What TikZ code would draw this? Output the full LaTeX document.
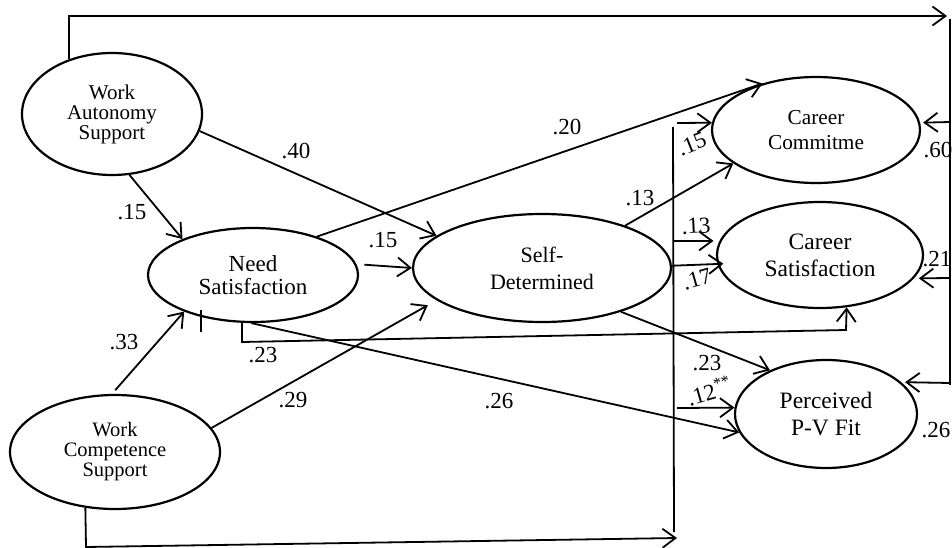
\documentclass[tikz,border=0pt]{standalone}
\usepackage{fontspec}
\setmainfont{Liberation Serif}
\usetikzlibrary{arrows.meta,shapes.geometric}
\begin{document}
\begin{tikzpicture}[x=1pt,y=-1pt,
  ell/.style={ellipse,draw,line width=2.2pt,inner sep=0pt,align=center},
  conn/.style={line width=1.8pt},
  arr/.style={conn,-{Straight Barb[length=13pt,width=19pt]}},
  lab/.style={font=\fontsize{23}{27}\selectfont,inner sep=0pt}
]
\useasboundingbox (0,0) rectangle (952,548);
% ellipses
\node[ell,minimum width=180pt,minimum height=122pt,font=\fontsize{21}{20}\selectfont] (wa) at (112,114) {Work\\Autonomy\\Support};
\node[ell,minimum width=210pt,minimum height=94pt,font=\fontsize{23}{23}\selectfont] (ns) at (253,275) {Need\\Satisfaction};
\node[ell,minimum width=258pt,minimum height=108pt,font=\fontsize{22}{27}\selectfont] (sd) at (542,268) {Self-\\Determined};
\node[ell,minimum width=208pt,minimum height=106pt,font=\fontsize{21.3}{25}\selectfont] (cc) at (816,130) {Career\\Commitme};
\node[ell,minimum width=206pt,minimum height=106pt,font=\fontsize{23.5}{27}\selectfont] (cs) at (820,255) {Career\\Satisfaction};
\node[ell,minimum width=182pt,minimum height=108pt,font=\fontsize{23.5}{27}\selectfont] (pf) at (826,414) {Perceived\\P-V Fit};
\node[ell,minimum width=210pt,minimum height=114pt,font=\fontsize{20.5}{20}\selectfont] (wc) at (115,452) {Work\\Competence\\Support};
% coordinates
\coordinate (tr) at (947,16);
\coordinate (rbt) at (950,19);
\coordinate (rbb) at (950,385);
\coordinate (r1) at (950,122);
\coordinate (r2) at (950,278);
\coordinate (r3) at (950,383);
\coordinate (bl) at (86,547);
\coordinate (br) at (677,538);
\coordinate (lbt) at (673,127);
\coordinate (lbb) at (674,532);
\coordinate (l1) at (677,123);
\coordinate (l2) at (673,241);
\coordinate (l3) at (677,408);
\coordinate (c1) at (242,342);
\coordinate (c2) at (846,330);
\coordinate (t1) at (201,310);
\coordinate (t2) at (201,332);
% connectors
\draw[arr] (wa.128) |- (tr);
\draw[conn] (rbt) -- (rbb);
\draw[arr,shorten >=3pt] (r1) -- (cc.4);
\draw[arr,shorten >=5pt] (r2) -- (cs.-14);
\draw[arr,shorten >=4pt] (r3) -- (pf.23);
\draw[arr] (wc.-118) -- (bl) -- (br);
\draw[conn] (lbt) -- (lbb);
\draw[arr] (l1) -- (cc.176);
\draw[arr,shorten >=6pt] (l2) -- (cs.172);
\draw[arr] (l3) -- (pf.176);
\draw[arr] (wa.-11) -- (sd.163.5);
\draw[arr] (wa.-74) -- (ns.153);
\draw[arr,shorten <=8pt] (ns.6) -- (sd.180);
\draw[arr] (ns.31.5) -- (cc.139);
\draw[arr] (ns.-92) -- (pf.192);
\draw[arr,shorten <=5pt] (wc.93) -- (ns.208);
\draw[arr,shorten >=10pt] (wc.14) -- (sd.197);
\draw[arr] (sd.27) -- (cc.202);
\draw[arr,shorten >=-6pt] (sd.1) -- (cs.185);
\draw[arr] (sd.-29) -- (pf.142);
\draw[arr] (ns.-103) -- (c1) -- (c2) -- (cs.-63);
\draw[conn] (t1) -- (t2);
% labels
\node[lab] (k40) at (296,151) {.40};
\node[lab] (k15a) at (132,212) {.15};
\node[lab] (k20) at (567,127) {.20};
\node[lab] (k15b) at (383,240) {.15};
\node[lab] (k13a) at (640,198) {.13};
\node[lab] (k33) at (124,342) {.33};
\node[lab] (k29) at (293,400) {.29};
\node[lab] (k23a) at (263,355) {.23};
\node[lab] (k26a) at (499,401) {.26};
\node[lab,rotate=22] (k15c) at (692,144) {.15};
\node[lab,rotate=3] (k13b) at (696,226) {.13};
\node[lab,rotate=16] (k17) at (697,279) {.17};
\node[lab] (k23b) at (707,363) {.23};
\node[lab,rotate=16] (k12) at (709,391) {.12\textsuperscript{**}};
\node[lab] (k60) at (938,150) {.60};
\node[lab] (k21) at (937,259) {.21};
\node[lab] (k26b) at (936,430) {.26};
\end{tikzpicture}
\end{document}
